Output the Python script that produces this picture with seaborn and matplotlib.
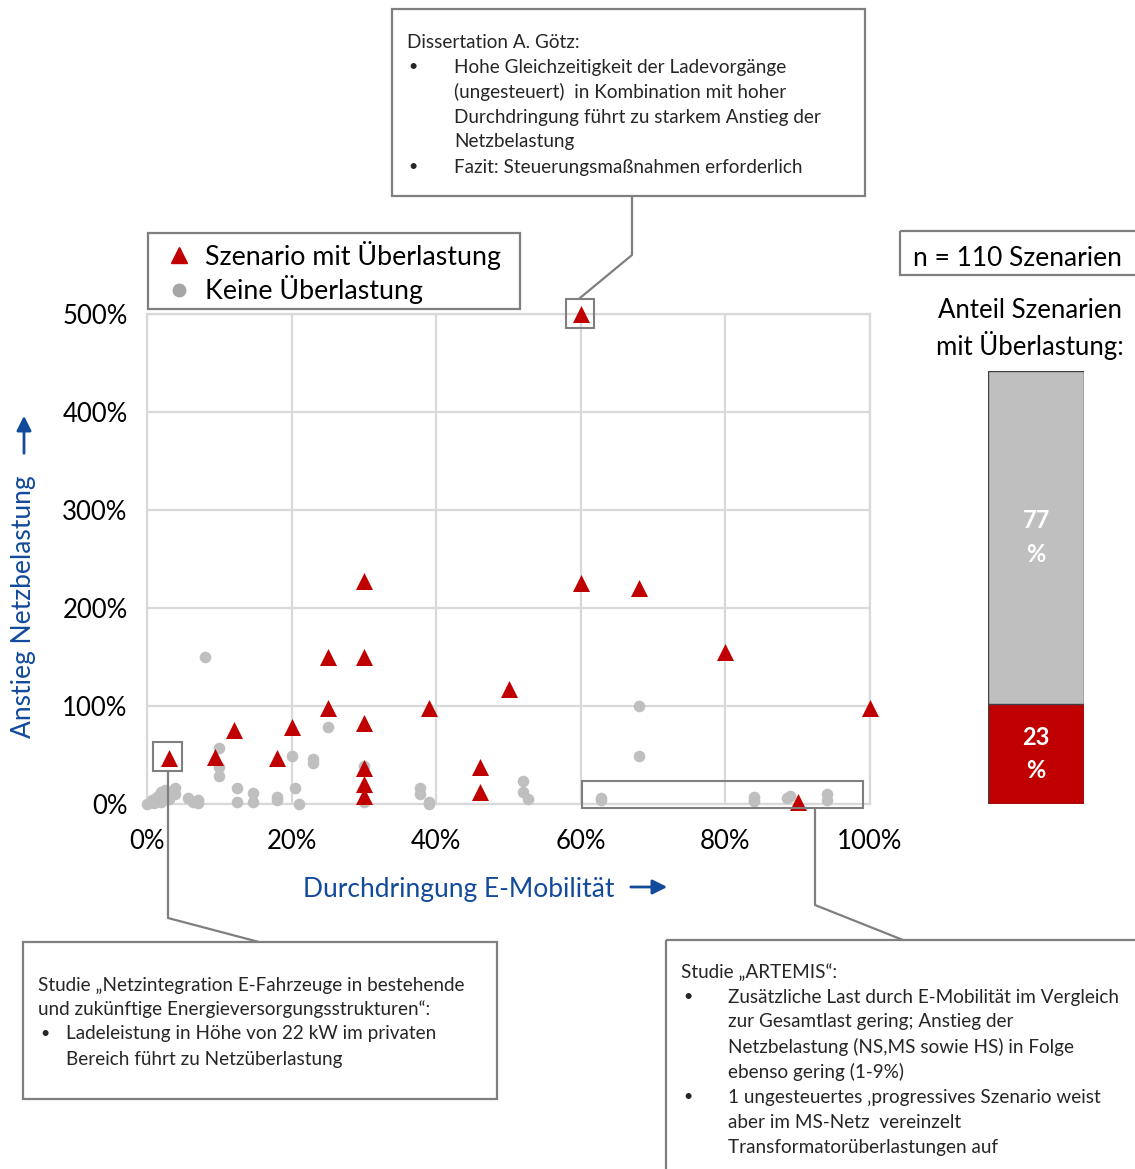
import matplotlib
matplotlib.use("Agg")
import matplotlib.pyplot as plt
from matplotlib.patches import Rectangle
from matplotlib.lines import Line2D
import seaborn as sns
import pandas as pd

# --- data -------------------------------------------------------------
# scenarios with overload: (penetration %, increase of grid load %)
over_x = [3, 9.4, 12, 18, 20, 25, 25, 30, 30, 30, 30, 30, 30, 39, 46, 46, 50, 60, 60, 68, 80, 100, 90]
over_y = [47, 48, 76, 47, 79, 98, 150, 228, 150, 83, 37, 20, 8, 98, 38, 12, 117, 500, 226, 220, 155, 98, 2]

# scenarios without overload
ok_x = [0, 0.7, 1.4, 2, 2.5, 3.9, 3.9, 5.7, 6.4, 7, 7, 1, 2, 3,
        8, 10, 10, 10, 12.4, 12.4, 14.7, 14.7, 18, 18, 20, 20.5, 21, 23, 23, 25,
        30, 30, 37.8, 37.8, 39, 39, 52, 52, 52.7, 62.8, 62.8, 68, 68,
        84, 84, 88.5, 89, 94, 94]
ok_y = [0, 4, 7, 12, 14, 16, 10, 6, 2, 4, 1, 1, 2, 5,
        150, 57, 38, 29, 16, 2, 11, 2, 7, 4, 49, 16, 0, 46, 42, 79,
        39, 2, 16, 10, 2, 0, 23, 12, 5, 6, 4, 100, 49,
        7, 3, 6, 8, 10, 4]

group_labels = ["Szenario mit Überlastung", "Keine Überlastung"]
x_ticks = [0, 20, 40, 60, 80, 100]
x_tick_labels = ["0%", "20%", "40%", "60%", "80%", "100%"]
y_ticks = [0, 100, 200, 300, 400, 500]
y_tick_labels = ["0%", "100%", "200%", "300%", "400%", "500%"]

share_labels = ["Überlastung", "Keine Überlastung"]
share_values = [23, 77]
n_scenarios = 110

# --- style ------------------------------------------------------------
sns.set_theme(style="white")
plt.rcParams["font.family"] = ["Lato", "DejaVu Sans"]

RED = "#c00000"
GREY = "#bfbfbf"
BLUE = "#124a9c"
FRAME = "#7f7f7f"
TXT = "#262626"

W, H = 1135, 1169
fig = plt.figure(figsize=(W / 100, H / 100), dpi=100)
fig.patch.set_facecolor("white")


def fig_rect(x0, y0, x1, y1):
    return [x0 / W, 1 - y1 / H, (x1 - x0) / W, (y1 - y0) / H]


# --- scatter ----------------------------------------------------------
df = pd.DataFrame({
    "x": over_x + ok_x,
    "y": over_y + ok_y,
    "grp": [group_labels[0]] * len(over_x) + [group_labels[1]] * len(ok_x),
})

ax = fig.add_axes(fig_rect(147, 314, 870, 804))
sns.scatterplot(data=df[df.grp == group_labels[1]], x="x", y="y", color=GREY,
                marker="o", s=70, linewidth=0, ax=ax, clip_on=False, zorder=3)
sns.scatterplot(data=df[df.grp == group_labels[0]], x="x", y="y", color=RED,
                marker="^", s=150, linewidth=0, ax=ax, clip_on=False, zorder=4)
ax.set_xlim(0, 100)
ax.set_ylim(0, 500)
ax.set_xticks(x_ticks)
ax.set_xticklabels(x_tick_labels)
ax.set_yticks(y_ticks)
ax.set_yticklabels(y_tick_labels)
ax.tick_params(axis="both", length=0, labelsize=18.5, colors="black")
ax.tick_params(axis="x", pad=18)
ax.tick_params(axis="y", pad=14)
ax.grid(True, color="#d9d9d9", linewidth=1.6)
ax.set_axisbelow(True)
for sp in ax.spines.values():
    sp.set_color("#d9d9d9")
    sp.set_linewidth(1.6)
ax.set_xlabel("")
ax.set_ylabel("")
if ax.get_legend():
    ax.get_legend().remove()

# highlight boxes around the referenced scenarios
for (x0, x1, y0, y1) in [(58.0, 61.8, 486, 515), (0.8, 4.8, 33.7, 63.3), (60.2, 99.0, -4.1, 23.5)]:
    ax.add_patch(Rectangle((x0, y0), x1 - x0, y1 - y0, fill=False, edgecolor=FRAME,
                           linewidth=1.5, clip_on=False, zorder=5))

# --- stacked share bar ------------------------------------------------
bx = fig.add_axes(fig_rect(988, 371, 1084, 804))
cum = [share_values[0], share_values[0] + share_values[1]]
sns.barplot(x=[0], y=[cum[1]], color=GREY, width=1, edgecolor="#404040",
            linewidth=1, ax=bx, saturation=1)
sns.barplot(x=[0], y=[cum[0]], color=RED, width=1, edgecolor="#404040",
            linewidth=1, ax=bx, saturation=1)
bx.set_xlim(-0.5, 0.5)
bx.set_ylim(0, 100)
bx.axis("off")
bx.text(0, share_values[0] / 2, f"{share_values[0]}\n%", ha="center", va="center",
        color="white", fontsize=17, fontweight="bold", linespacing=1.55)
bx.text(0, share_values[0] + share_values[1] / 2, f"{share_values[1]}\n%", ha="center",
        va="center", color="white", fontsize=17, fontweight="bold", linespacing=1.55)

# --- overlay in pixel coordinates for labels, boxes and callouts -------
ov = fig.add_axes([0, 0, 1, 1], zorder=10)
ov.set_xlim(0, W)
ov.set_ylim(H, 0)
ov.axis("off")
ov.patch.set_alpha(0)


def box(x0, y0, x1, y1):
    ov.add_patch(Rectangle((x0, y0), x1 - x0, y1 - y0, fill=False, edgecolor=FRAME,
                           linewidth=1.6, clip_on=False))


def poly(pts):
    ov.plot([p[0] for p in pts], [p[1] for p in pts], color=FRAME, linewidth=1.6,
            clip_on=False)


# legend
box(148, 233, 520, 309)
ov.add_line(Line2D([179], [255], marker="^", markersize=12, color=RED, linestyle="none"))
ov.add_line(Line2D([179], [290], marker="o", markersize=9, color="#a6a6a6", linestyle="none"))
ov.text(205, 256, group_labels[0], fontsize=19.3, va="center", ha="left", color="black")
ov.text(205, 290, group_labels[1], fontsize=19.3, va="center", ha="left", color="black")

# axis titles with arrows
ov.text(459, 889, "Durchdringung E-Mobilität", fontsize=19, color=BLUE, ha="center", va="center")
ov.annotate("", xy=(670, 887), xytext=(628, 887),
            arrowprops=dict(arrowstyle="-|>", color=BLUE, lw=2, mutation_scale=22))
ov.text(24, 607, "Anstieg Netzbelastung", fontsize=19, color=BLUE, ha="center", va="center",
        rotation=90)
ov.annotate("", xy=(24, 413), xytext=(24, 456),
            arrowprops=dict(arrowstyle="-|>", color=BLUE, lw=2, mutation_scale=22))

# share panel
box(900, 231, 1140, 275)
ov.text(1017, 258, f"n = {n_scenarios} Szenarien", fontsize=19, ha="center", va="center",
        color="black")
ov.text(1030, 311, "Anteil Szenarien", fontsize=18.5, ha="center", va="center", color="black")
ov.text(1030, 346, "mit Überlastung:", fontsize=18.5, ha="center", va="center", color="black")

# callout: Dissertation A. Götz
box(392, 9, 865, 196)
poly([(632, 196), (632, 255), (580, 298)])
FS = 13.6
ov.text(407, 42, "Dissertation A. Götz:", fontsize=FS, va="center", color=TXT)
top_lines = [
    (67, True, "Hohe Gleichzeitigkeit der Ladevorgänge"),
    (92, False, "(ungesteuert)  in Kombination mit hoher"),
    (117, False, "Durchdringung führt zu starkem Anstieg der"),
    (142, False, "Netzbelastung"),
    (167, True, "Fazit: Steuerungsmaßnahmen erforderlich"),
]
for y, bullet, s in top_lines:
    if bullet:
        ov.text(408, y, "•", fontsize=FS - 2, va="center", color=TXT)
    ov.text(454, y, s, fontsize=FS, va="center", color=TXT)

# callout: Netzintegration study
box(23, 942, 497, 1099)
poly([(259, 942), (168, 918), (168, 771)])
ov.text(38, 985, "Studie „Netzintegration E-Fahrzeuge in bestehende", fontsize=FS,
        va="center", color=TXT)
ov.text(38, 1009, "und zukünftige Energieversorgungsstrukturen“:", fontsize=FS,
        va="center", color=TXT)
ov.text(40, 1034, "•", fontsize=FS - 2, va="center", color=TXT)
ov.text(66, 1034, "Ladeleistung in Höhe von 22 kW im privaten", fontsize=FS, va="center",
        color=TXT)
ov.text(66, 1059, "Bereich führt zu Netzüberlastung", fontsize=FS, va="center", color=TXT)

# callout: ARTEMIS study
box(666, 940, 1145, 1180)
poly([(903, 940), (815, 905), (815, 808)])
ov.text(681, 972, "Studie „ARTEMIS“:", fontsize=FS, va="center", color=TXT)
art_lines = [
    (997, True, "Zusätzliche Last durch E-Mobilität im Vergleich"),
    (1022, False, "zur Gesamtlast gering; Anstieg der"),
    (1047, False, "Netzbelastung (NS,MS sowie HS) in Folge"),
    (1072, False, "ebenso gering (1-9%)"),
    (1097, True, "1 ungesteuertes ‚progressives Szenario weist"),
    (1122, False, "aber im MS-Netz  vereinzelt"),
    (1147, False, "Transformatorüberlastungen auf"),
]
for y, bullet, s in art_lines:
    if bullet:
        ov.text(683, y, "•", fontsize=FS - 2, va="center", color=TXT)
    ov.text(728, y, s, fontsize=FS, va="center", color=TXT)

fig.savefig("out.png", dpi=100, facecolor="white")
